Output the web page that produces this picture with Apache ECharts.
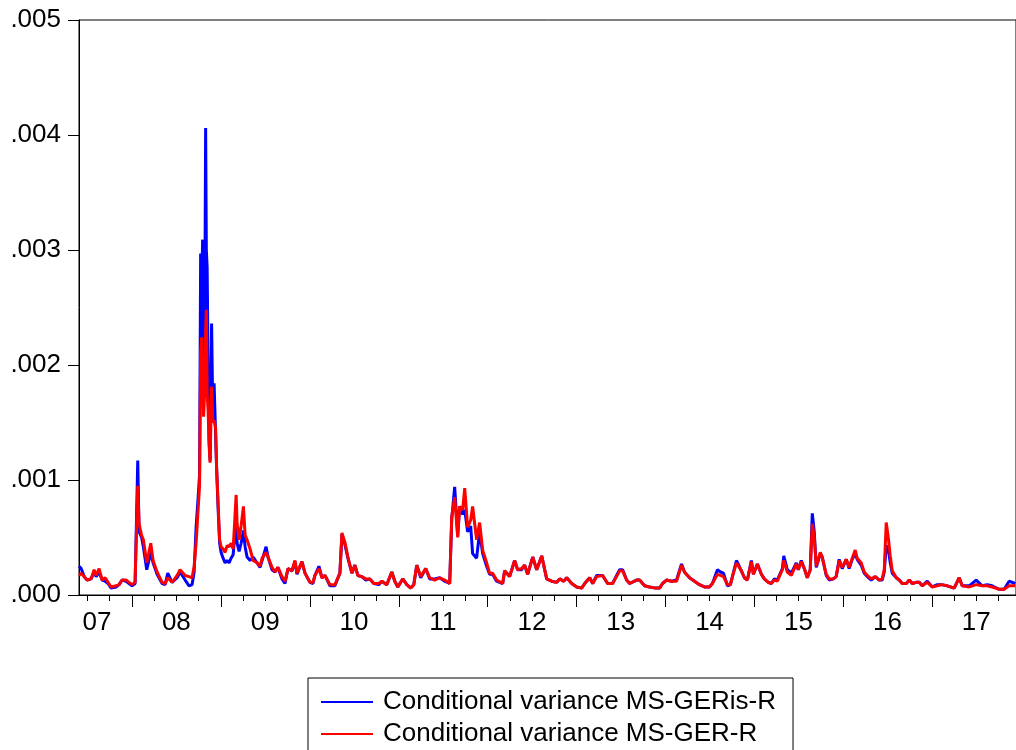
<!DOCTYPE html>
<html>
<head>
<meta charset="utf-8">
<script src="https://cdn.jsdelivr.net/npm/echarts@6/dist/echarts.min.js"></script>
<style>
html,body{margin:0;padding:0;background:#fff;}
#chart{width:1016px;height:750px;}
</style>
</head>
<body>
<div id="chart"></div>
<script>
// ---- data ----
const START = '2007-05-28';
const END = '2017-12-11';
const SERIES_NAMES = ['Conditional variance MS-GERis-R', 'Conditional variance MS-GER-R'];
const YEAR_LABELS = ['07','08','09','10','11','12','13','14','15','16','17'];
const Y_TICKS = [0, 0.001, 0.002, 0.003, 0.004, 0.005];

// decimal-year time stamps of the sampled points
const YEARS = [
2007.404,2007.427,2007.461,2007.494,2007.539,2007.573,2007.596,2007.629,2007.663,2007.697,
2007.730,2007.764,2007.820,2007.854,2007.888,2007.933,2007.966,2008.000,2008.034,2008.051,
2008.064,2008.079,2008.107,2008.127,2008.165,2008.210,2008.236,2008.281,2008.337,2008.371,
2008.401,2008.449,2008.506,2008.539,2008.596,2008.640,2008.674,2008.697,2008.719,2008.742,
2008.758,2008.770,2008.781,2008.792,2008.803,2008.815,2008.826,2008.834,2008.843,2008.854,
2008.865,2008.876,2008.893,2008.907,2008.921,2008.938,2008.949,2008.966,2008.983,2009.000,
2009.022,2009.045,2009.067,2009.090,2009.112,2009.135,2009.157,2009.169,2009.180,2009.202,
2009.225,2009.251,2009.270,2009.292,2009.326,2009.360,2009.404,2009.438,2009.461,2009.506,
2009.528,2009.573,2009.607,2009.640,2009.685,2009.719,2009.753,2009.798,2009.831,2009.854,
2009.910,2009.944,2010.000,2010.034,2010.056,2010.101,2010.135,2010.169,2010.225,2010.281,
2010.337,2010.360,2010.393,2010.427,2010.472,2010.506,2010.539,2010.584,2010.629,2010.674,
2010.719,2010.775,2010.809,2010.865,2010.921,2010.955,2010.989,2011.045,2011.090,2011.135,
2011.169,2011.202,2011.247,2011.303,2011.348,2011.404,2011.461,2011.517,2011.573,2011.596,
2011.629,2011.663,2011.685,2011.719,2011.742,2011.775,2011.809,2011.831,2011.876,2011.910,
2011.944,2011.989,2012.022,2012.056,2012.101,2012.169,2012.191,2012.247,2012.303,2012.337,
2012.382,2012.416,2012.449,2012.506,2012.551,2012.607,2012.663,2012.719,2012.775,2012.809,
2012.854,2012.888,2012.944,2013.000,2013.056,2013.090,2013.146,2013.180,2013.225,2013.292,
2013.348,2013.404,2013.449,2013.483,2013.517,2013.562,2013.596,2013.674,2013.708,2013.764,
2013.820,2013.888,2013.933,2013.966,2014.011,2014.067,2014.124,2014.180,2014.213,2014.270,
2014.326,2014.382,2014.438,2014.494,2014.528,2014.584,2014.618,2014.652,2014.697,2014.730,
2014.753,2014.798,2014.854,2014.888,2014.921,2014.966,2014.989,2015.034,2015.079,2015.112,
2015.157,2015.191,2015.225,2015.258,2015.315,2015.331,2015.371,2015.416,2015.472,2015.494,
2015.528,2015.562,2015.596,2015.629,2015.652,2015.674,2015.697,2015.742,2015.764,2015.809,
2015.843,2015.888,2015.921,2015.955,2015.989,2016.034,2016.067,2016.101,2016.135,2016.157,
2016.202,2016.236,2016.270,2016.315,2016.360,2016.404,2016.438,2016.461,2016.483,2016.506,
2016.528,2016.551,2016.596,2016.629,2016.663,2016.708,2016.742,2016.775,2016.820,2016.854,
2016.888,2016.944,2017.000,2017.056,2017.101,2017.169,2017.247,2017.303,2017.337,2017.416,
2017.494,2017.562,2017.618,2017.674,2017.753,2017.809,2017.865,2017.933
];

// Conditional variance MS-GERis-R (blue)
const BLUE = [
0.00025,0.00023,0.00016,0.00013,0.00014,0.00020,0.00016,0.00020,0.00013,0.00012,
0.00010,0.00006,0.00007,0.00009,0.00013,0.00012,0.00010,0.00008,0.00010,0.00070,
0.00117,0.00055,0.00050,0.00042,0.00022,0.00037,0.00028,0.00018,0.00010,0.00009,
0.00019,0.00011,0.00015,0.00020,0.00013,0.00008,0.00009,0.00020,0.00059,0.00085,
0.00105,0.00297,0.00260,0.00309,0.00160,0.00220,0.00406,0.00300,0.00285,0.00200,
0.00135,0.00117,0.00236,0.00155,0.00184,0.00184,0.00111,0.00075,0.00045,0.00037,
0.00032,0.00028,0.00030,0.00028,0.00032,0.00035,0.00055,0.00063,0.00045,0.00038,
0.00045,0.00056,0.00042,0.00033,0.00030,0.00033,0.00028,0.00024,0.00030,0.00042,
0.00033,0.00022,0.00020,0.00024,0.00014,0.00010,0.00023,0.00021,0.00029,0.00018,
0.00029,0.00019,0.00011,0.00010,0.00017,0.00025,0.00015,0.00017,0.00008,0.00008,
0.00019,0.00053,0.00044,0.00032,0.00019,0.00026,0.00017,0.00016,0.00013,0.00014,
0.00010,0.00009,0.00012,0.00009,0.00020,0.00012,0.00007,0.00014,0.00009,0.00006,
0.00009,0.00026,0.00015,0.00023,0.00014,0.00014,0.00015,0.00012,0.00010,0.00066,
0.00094,0.00052,0.00077,0.00070,0.00074,0.00055,0.00060,0.00036,0.00032,0.00055,
0.00036,0.00025,0.00018,0.00018,0.00012,0.00010,0.00021,0.00016,0.00030,0.00022,
0.00022,0.00026,0.00018,0.00033,0.00022,0.00034,0.00014,0.00012,0.00011,0.00014,
0.00012,0.00015,0.00010,0.00007,0.00006,0.00010,0.00015,0.00010,0.00017,0.00017,
0.00010,0.00010,0.00017,0.00022,0.00022,0.00013,0.00010,0.00013,0.00013,0.00008,
0.00007,0.00006,0.00006,0.00010,0.00013,0.00012,0.00013,0.00027,0.00020,0.00015,
0.00012,0.00009,0.00007,0.00007,0.00010,0.00022,0.00020,0.00019,0.00008,0.00009,
0.00016,0.00030,0.00021,0.00015,0.00013,0.00030,0.00018,0.00027,0.00018,0.00014,
0.00011,0.00010,0.00014,0.00013,0.00023,0.00034,0.00022,0.00019,0.00028,0.00022,
0.00030,0.00023,0.00015,0.00022,0.00071,0.00055,0.00024,0.00036,0.00033,0.00017,
0.00013,0.00014,0.00016,0.00031,0.00023,0.00031,0.00023,0.00031,0.00036,0.00031,
0.00026,0.00019,0.00016,0.00013,0.00016,0.00013,0.00013,0.00020,0.00043,0.00040,
0.00028,0.00019,0.00015,0.00013,0.00010,0.00010,0.00013,0.00010,0.00011,0.00011,
0.00008,0.00012,0.00007,0.00009,0.00009,0.00008,0.00006,0.00015,0.00008,0.00008,
0.00013,0.00008,0.00009,0.00008,0.00005,0.00005,0.00012,0.00010
];

// Conditional variance MS-GER-R (red)
const RED = [
0.00017,0.00019,0.00016,0.00013,0.00014,0.00022,0.00017,0.00023,0.00013,0.00015,
0.00011,0.00007,0.00008,0.00009,0.00013,0.00013,0.00011,0.00009,0.00011,0.00060,
0.00095,0.00062,0.00052,0.00048,0.00028,0.00045,0.00030,0.00020,0.00011,0.00010,
0.00015,0.00011,0.00017,0.00022,0.00017,0.00016,0.00015,0.00025,0.00045,0.00075,
0.00095,0.00210,0.00224,0.00190,0.00155,0.00180,0.00230,0.00248,0.00175,0.00160,
0.00130,0.00115,0.00181,0.00150,0.00152,0.00145,0.00111,0.00080,0.00048,0.00042,
0.00040,0.00037,0.00043,0.00042,0.00045,0.00040,0.00070,0.00087,0.00062,0.00048,
0.00060,0.00077,0.00052,0.00048,0.00040,0.00030,0.00028,0.00025,0.00032,0.00037,
0.00033,0.00024,0.00020,0.00024,0.00016,0.00012,0.00023,0.00021,0.00030,0.00019,
0.00029,0.00019,0.00011,0.00011,0.00017,0.00023,0.00015,0.00017,0.00009,0.00009,
0.00019,0.00054,0.00046,0.00033,0.00019,0.00026,0.00017,0.00016,0.00014,0.00014,
0.00010,0.00010,0.00012,0.00009,0.00020,0.00012,0.00007,0.00014,0.00009,0.00006,
0.00009,0.00026,0.00016,0.00023,0.00015,0.00013,0.00015,0.00013,0.00010,0.00068,
0.00085,0.00050,0.00077,0.00074,0.00093,0.00059,0.00065,0.00077,0.00048,0.00063,
0.00039,0.00028,0.00019,0.00019,0.00013,0.00010,0.00021,0.00016,0.00030,0.00022,
0.00023,0.00026,0.00018,0.00033,0.00022,0.00034,0.00014,0.00012,0.00011,0.00014,
0.00012,0.00015,0.00010,0.00007,0.00006,0.00010,0.00015,0.00010,0.00016,0.00017,
0.00010,0.00010,0.00016,0.00021,0.00021,0.00013,0.00010,0.00013,0.00013,0.00008,
0.00007,0.00006,0.00006,0.00010,0.00013,0.00012,0.00012,0.00026,0.00020,0.00015,
0.00012,0.00009,0.00007,0.00007,0.00010,0.00018,0.00017,0.00016,0.00009,0.00009,
0.00016,0.00028,0.00021,0.00015,0.00013,0.00029,0.00018,0.00027,0.00018,0.00014,
0.00011,0.00010,0.00013,0.00012,0.00022,0.00030,0.00020,0.00017,0.00027,0.00022,
0.00029,0.00023,0.00015,0.00022,0.00062,0.00050,0.00025,0.00037,0.00033,0.00018,
0.00014,0.00014,0.00016,0.00030,0.00024,0.00031,0.00024,0.00032,0.00039,0.00032,
0.00028,0.00020,0.00017,0.00014,0.00016,0.00013,0.00014,0.00022,0.00063,0.00050,
0.00034,0.00021,0.00015,0.00013,0.00010,0.00010,0.00013,0.00010,0.00011,0.00011,
0.00008,0.00011,0.00007,0.00008,0.00009,0.00008,0.00006,0.00015,0.00008,0.00007,
0.00009,0.00008,0.00008,0.00007,0.00005,0.00005,0.00008,0.00008
];

// ---- helpers ----
function dateTs(s){ const p = s.split('-').map(Number); return Date.UTC(p[0], p[1]-1, p[2]); }
function yearTs(t){
  const y = Math.floor(t);
  const a = Date.UTC(y,0,1), b = Date.UTC(y+1,0,1);
  return a + (t - y) * (b - a);
}
const DAY = 86400000;
const days = [];
for (let t = dateTs(START); t <= dateTs(END); t += DAY) days.push(new Date(t).toISOString().slice(0,10));

const FIRST_LABEL_DAY = '2007-08-10';
function isLabelDay(v){
  if (v === FIRST_LABEL_DAY) return true;
  return v.slice(5) === '07-01' && v.slice(0,4) !== '2007' && YEAR_LABELS.indexOf(v.slice(2,4)) >= 0;
}
function isQuarterDay(v){
  return v.slice(8) === '01' && ['01','04','07','10'].indexOf(v.slice(5,7)) >= 0;
}
function isYearDay(v){ return v.slice(5) === '01-01'; }

const blueData = YEARS.map((t,i) => [yearTs(t), BLUE[i]]);
const redData = YEARS.map((t,i) => [yearTs(t), RED[i]]);

const FONT = "'Liberation Sans', Arial, Helvetica, sans-serif";
const chart = echarts.init(document.getElementById('chart'), null, {renderer:'canvas'});
chart.setOption({
  animation: false,
  backgroundColor: '#ffffff',
  grid: { left: 79, top: 20, width: 938, height: 575, show: true, borderColor: '#000', borderWidth: 1, backgroundColor: 'transparent' },
  xAxis: [
    { type: 'value', min: dateTs(START), max: dateTs(END), show: false },
    { type: 'category', data: days, boundaryGap: false, position: 'bottom',
      axisLine: { show: true, lineStyle: { color: '#000', width: 1 } },
      axisTick: { show: true, interval: (i, v) => isQuarterDay(v), length: 6, lineStyle: { color: '#000', width: 1 } },
      axisLabel: { show: false }, splitLine: { show: false } },
    { type: 'category', data: days, boundaryGap: false, position: 'bottom',
      axisLine: { show: false },
      axisTick: { show: true, interval: (i, v) => isYearDay(v), length: 12, lineStyle: { color: '#000', width: 1 } },
      axisLabel: { show: true, interval: (i, v) => isLabelDay(v), formatter: v => v.slice(2,4),
        fontSize: 26, fontFamily: FONT, color: '#000', margin: 15 },
      splitLine: { show: false } }
  ],
  yAxis: {
    type: 'value', min: Y_TICKS[0], max: Y_TICKS[Y_TICKS.length-1], interval: 0.001,
    axisLine: { show: true, lineStyle: { color: '#000', width: 1 } },
    axisTick: { show: true, length: 11, lineStyle: { color: '#000', width: 1 } },
    axisLabel: { fontSize: 26, fontFamily: FONT, color: '#000', margin: 18,
      formatter: v => v.toFixed(3).replace(/^0/, '') },
    splitLine: { show: false }
  },
  legend: {
    orient: 'vertical', left: 308, top: 678, height: 110,
    data: SERIES_NAMES.map(n => ({ name: n, icon: 'rect' })),
    itemWidth: 52, itemHeight: 2, itemGap: 4,
    padding: [10, 17, 40, 13],
    borderColor: '#000', borderWidth: 1, backgroundColor: '#fff',
    textStyle: { fontSize: 26, fontFamily: FONT, color: '#000', lineHeight: 28, padding: [0,0,0,5] }
  },
  series: [
    { name: SERIES_NAMES[0], type: 'line', xAxisIndex: 0, data: blueData, symbol: 'none', showSymbol: false,
      lineStyle: { color: '#0000ff', width: 3 }, itemStyle: { color: '#0000ff' } },
    { name: SERIES_NAMES[1], type: 'line', xAxisIndex: 0, data: redData, symbol: 'none', showSymbol: false,
      lineStyle: { color: '#ff0000', width: 3 }, itemStyle: { color: '#ff0000' } }
  ]
});
</script>
</body>
</html>
